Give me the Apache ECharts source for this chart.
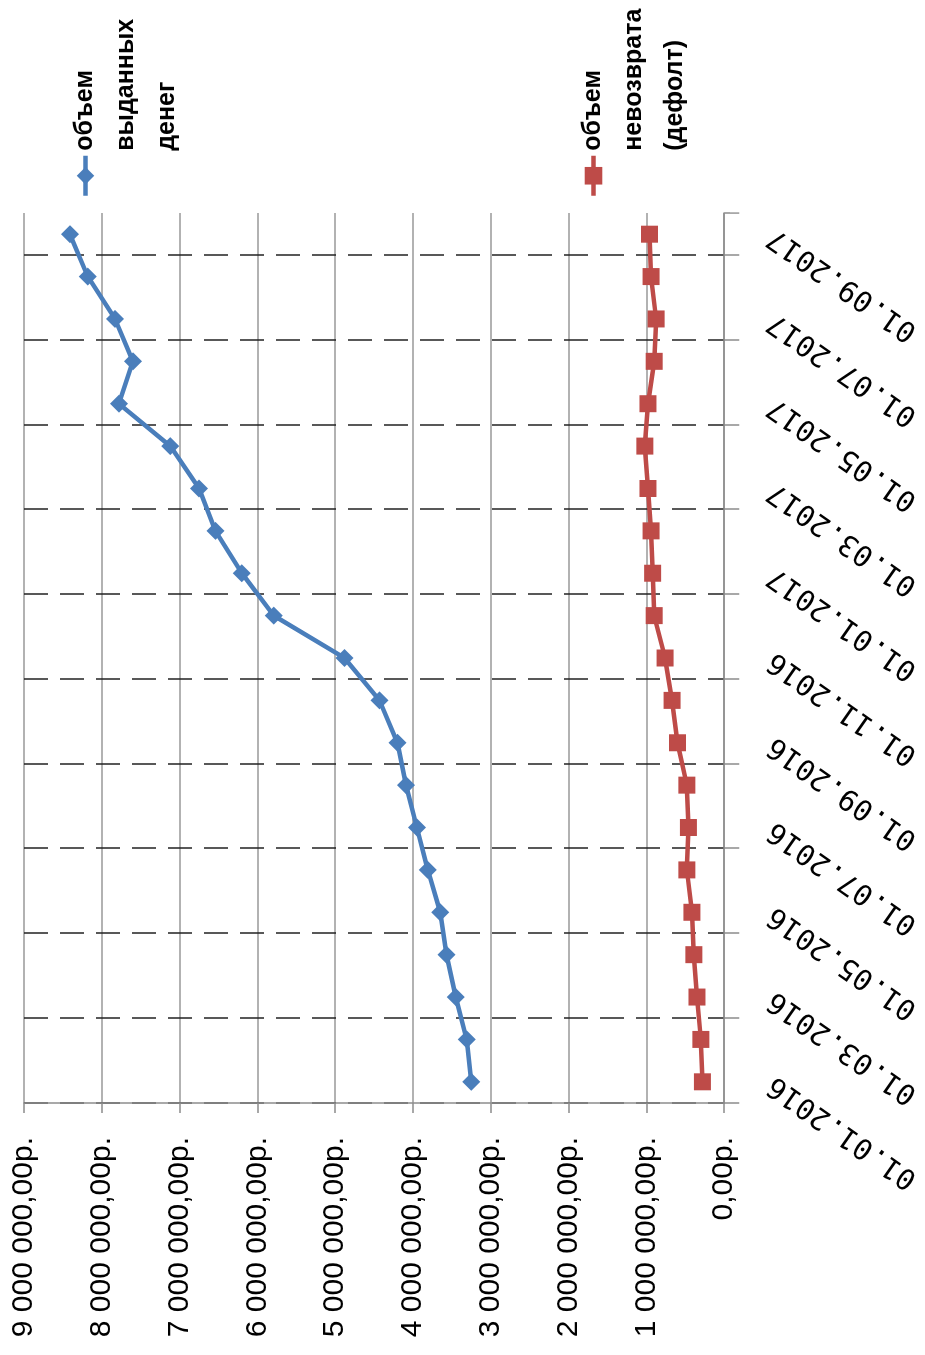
<!DOCTYPE html>
<html>
<head>
<meta charset="utf-8">
<script src="https://cdn.jsdelivr.net/npm/echarts@6/dist/echarts.min.js"></script>
<style>
  html, body { margin: 0; padding: 0; background: #ffffff; overflow: hidden; width: 925px; height: 1355px; }
  #chart { position: absolute; left: 0; top: 0; width: 1355px; height: 925px;
           transform-origin: 0 0; transform: translate(0px, 1355px) rotate(-90deg); background: #fff; }
</style>
</head>
<body>
<div id="chart"></div>
<script>
const categories = [
  '01.01.2016','01.02.2016','01.03.2016','01.04.2016','01.05.2016','01.06.2016',
  '01.07.2016','01.08.2016','01.09.2016','01.10.2016','01.11.2016','01.12.2016',
  '01.01.2017','01.02.2017','01.03.2017','01.04.2017','01.05.2017','01.06.2017',
  '01.07.2017','01.08.2017','01.09.2017'
];
const issuedName = 'объем выданных денег';
const issued = [3250000, 3310000, 3450000, 3570000, 3650000, 3810000, 3950000, 4090000,
  4200000, 4430000, 4880000, 5790000, 6200000, 6540000, 6750000, 7120000, 7780000,
  7600000, 7830000, 8180000, 8410000];
const defaultName = 'объем невозврата (дефолт)';
const defaults = [280000, 300000, 350000, 390000, 415000, 480000, 460000, 480000,
  600000, 670000, 760000, 900000, 920000, 940000, 980000, 1020000, 980000,
  900000, 875000, 940000, 960000];
const valueMin = 0, valueMax = 9000000, valueStep = 1000000;

function rub(v) {
  const s = String(Math.round(v)).replace(/\B(?=(\d{3})+(?!\d))/g, ' ');
  return s + ',00р.';
}

const chart = echarts.init(document.getElementById('chart'), null, { renderer: 'canvas' });
const axisGray = '#8c8c8c';
chart.setOption({
  animation: false,
  backgroundColor: '#ffffff',
  grid: { left: 252, right: 213, top: 24, bottom: 196, containLabel: false },
  legend: {
    orient: 'vertical', left: 1152, top: -22,
    itemWidth: 40, itemHeight: 22, itemGap: 303,
    formatter: n => ' \n \n' + n.split(' ').join('\n'),
    lineStyle: { width: 4.5 },
    textStyle: { fontFamily: 'Liberation Sans, Arial, sans-serif', fontSize: 25, fontWeight: 'bold',
                 color: '#000', lineHeight: 41 },
    data: [issuedName, defaultName]
  },
  xAxis: {
    type: 'category', data: categories, boundaryGap: true,
    axisLine: { lineStyle: { color: axisGray, width: 1.5 } },
    axisTick: { show: true, interval: 1, length: 15, lineStyle: { color: axisGray, width: 1.5 } },
    axisLabel: { interval: 1, rotate: 55, margin: 47, color: '#000',
                 fontFamily: 'DejaVu Sans Mono, monospace', fontSize: 29 },
    splitLine: { show: true, interval: 1, showMaxLine: false,
                 lineStyle: { color: '#222', width: 1.5, type: [24, 12] } }
  },
  yAxis: {
    type: 'value', min: valueMin, max: valueMax, interval: valueStep,
    axisLine: { show: true, lineStyle: { color: axisGray, width: 1.5 } },
    axisTick: { show: true, length: 10, lineStyle: { color: axisGray, width: 1.5 } },
    axisLabel: { formatter: rub, margin: 34, color: '#000',
                 fontFamily: 'Liberation Sans, Arial, sans-serif', fontSize: 30 },
    splitLine: { show: true, lineStyle: { color: '#999', width: 1.5 } }
  },
  graphic: [
    { type: 'rect', left: 1142.8, top: 730, z: 100, silent: true,
      shape: { width: 6, height: 20 }, style: { fill: '#ffffff' } }
  ],
  series: [
    { name: issuedName, type: 'line', data: issued, symbol: 'diamond', symbolSize: 18,
      lineStyle: { color: '#4A7EBB', width: 4.5 }, itemStyle: { color: '#4A7EBB' } },
    { name: defaultName, type: 'line', data: defaults, symbol: 'rect', symbolSize: 17,
      lineStyle: { color: '#BE4B48', width: 4.5 }, itemStyle: { color: '#BE4B48' } }
  ]
});
</script>
</body>
</html>
